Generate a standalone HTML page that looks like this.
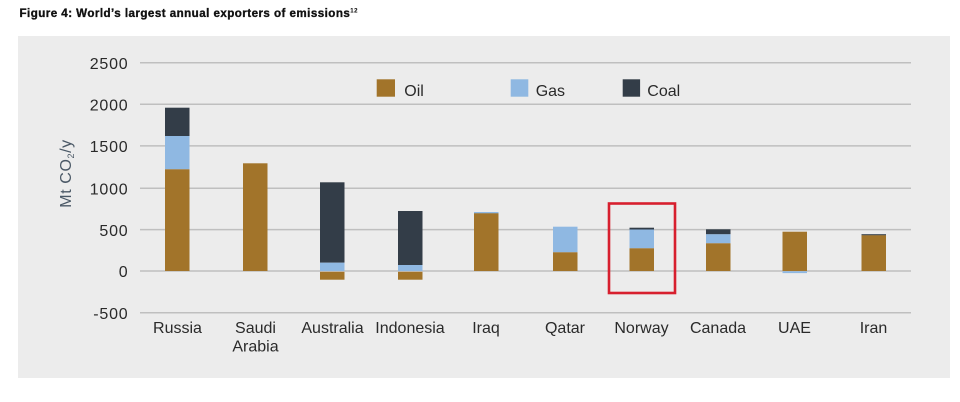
<!DOCTYPE html>
<html><head><meta charset="utf-8"><style>
html,body{margin:0;padding:0;background:#fff;}
svg{display:block;}
</style></head><body>
<svg width="960" height="402" viewBox="0 0 960 402" xmlns="http://www.w3.org/2000/svg" font-family="Liberation Sans, sans-serif">
<rect x="0" y="0" width="960" height="402" fill="#fff"/>
<text x="19.5" y="17" font-size="11.6" font-weight="bold" fill="#111" stroke="#111" stroke-width="0.35" letter-spacing="0.45">Figure 4: World’s largest annual exporters of emissions<tspan font-size="6" dy="-4.5" stroke-width="0.1">12</tspan></text>
<rect x="18" y="36" width="932" height="342" fill="#ececec"/>
<g stroke="#bfbfbf" stroke-width="1.5">
<line x1="140" x2="911" y1="62.7" y2="62.7"/>
<line x1="140" x2="911" y1="104.3" y2="104.3"/>
<line x1="140" x2="911" y1="145.9" y2="145.9"/>
<line x1="140" x2="911" y1="188.3" y2="188.3"/>
<line x1="140" x2="911" y1="229.6" y2="229.6"/>
<line x1="140" x2="911" y1="271" y2="271"/>
<line x1="140" x2="911" y1="312.7" y2="312.7"/>
</g>
<g font-size="16" fill="#2a2a2a" text-anchor="end" letter-spacing="0.8">
<text x="128.5" y="69">2500</text>
<text x="128.5" y="110.5">2000</text>
<text x="128.5" y="152">1500</text>
<text x="128.5" y="194.5">1000</text>
<text x="128.5" y="235.8">500</text>
<text x="128.5" y="277.2">0</text>
<text x="128.5" y="319">-500</text>
</g>
<text transform="translate(71,173.5) rotate(-90)" text-anchor="middle" font-size="16" letter-spacing="0.6" fill="#4a5866">Mt CO<tspan font-size="9" dy="3">2</tspan><tspan dy="-3">/y</tspan></text>
<!-- legend -->
<rect x="376.7" y="79.3" width="18.3" height="17.4" fill="#a2742a"/>
<text x="404.3" y="96" font-size="16" fill="#2a2a2a">Oil</text>
<rect x="510.7" y="79.3" width="17.6" height="17.4" fill="#8fb8e2"/>
<text x="535.7" y="96" font-size="16" fill="#2a2a2a">Gas</text>
<rect x="622.7" y="79.3" width="17.4" height="17.4" fill="#333d48"/>
<text x="647.3" y="96" font-size="16" fill="#2a2a2a">Coal</text>
<!-- bars -->
<g>
<rect x="165" y="107.7" width="24.5" height="28.3" fill="#333d48"/>
<rect x="165" y="136" width="24.5" height="33.3" fill="#8fb8e2"/>
<rect x="165" y="169.3" width="24.5" height="101.7" fill="#a2742a"/>
<rect x="243" y="163.3" width="24.5" height="107.7" fill="#a2742a"/>
<rect x="320" y="182.3" width="24.5" height="80.4" fill="#333d48"/>
<rect x="320" y="262.7" width="24.5" height="8.3" fill="#8fb8e2"/>
<rect x="320" y="271.8" width="24.5" height="7.9" fill="#a2742a"/>
<rect x="398" y="211" width="24.5" height="54" fill="#333d48"/>
<rect x="398" y="265" width="24.5" height="6" fill="#8fb8e2"/>
<rect x="398" y="271.8" width="24.5" height="7.9" fill="#a2742a"/>
<rect x="474" y="212" width="24.5" height="1.5" fill="#8fb8e2"/>
<rect x="474" y="213.3" width="24.5" height="57.7" fill="#a2742a"/>
<rect x="553" y="226.7" width="24.5" height="25.6" fill="#8fb8e2"/>
<rect x="553" y="252.3" width="24.5" height="18.7" fill="#a2742a"/>
<rect x="629.5" y="227.7" width="24.5" height="1.8" fill="#333d48"/>
<rect x="629.5" y="229.5" width="24.5" height="18.8" fill="#8fb8e2"/>
<rect x="629.5" y="248.3" width="24.5" height="22.7" fill="#a2742a"/>
<rect x="706" y="229.3" width="24.5" height="5" fill="#333d48"/>
<rect x="706" y="234.3" width="24.5" height="9" fill="#8fb8e2"/>
<rect x="706" y="243.3" width="24.5" height="27.7" fill="#a2742a"/>
<rect x="782.5" y="231.7" width="24.5" height="39.3" fill="#a2742a"/>
<rect x="782.5" y="271.3" width="24.5" height="1.8" fill="#8fb8e2"/>
<rect x="861.5" y="234.2" width="24.5" height="1.2" fill="#333d48"/>
<rect x="861.5" y="235.3" width="24.5" height="35.7" fill="#a2742a"/>
</g>
<rect x="609" y="203.5" width="66" height="89.5" fill="none" stroke="#d71f2e" stroke-width="2.6"/>
<!-- x labels -->
<g font-size="16" fill="#2a2a2a" text-anchor="middle">
<text x="177.5" y="333">Russia</text>
<text x="255.5" y="333">Saudi</text>
<text x="255.5" y="351.5">Arabia</text>
<text x="332.5" y="333">Australia</text>
<text x="410" y="333">Indonesia</text>
<text x="486" y="333">Iraq</text>
<text x="565" y="333">Qatar</text>
<text x="641.5" y="333">Norway</text>
<text x="718" y="333">Canada</text>
<text x="794.5" y="333">UAE</text>
<text x="873.5" y="333">Iran</text>
</g>
</svg>
</body></html>
